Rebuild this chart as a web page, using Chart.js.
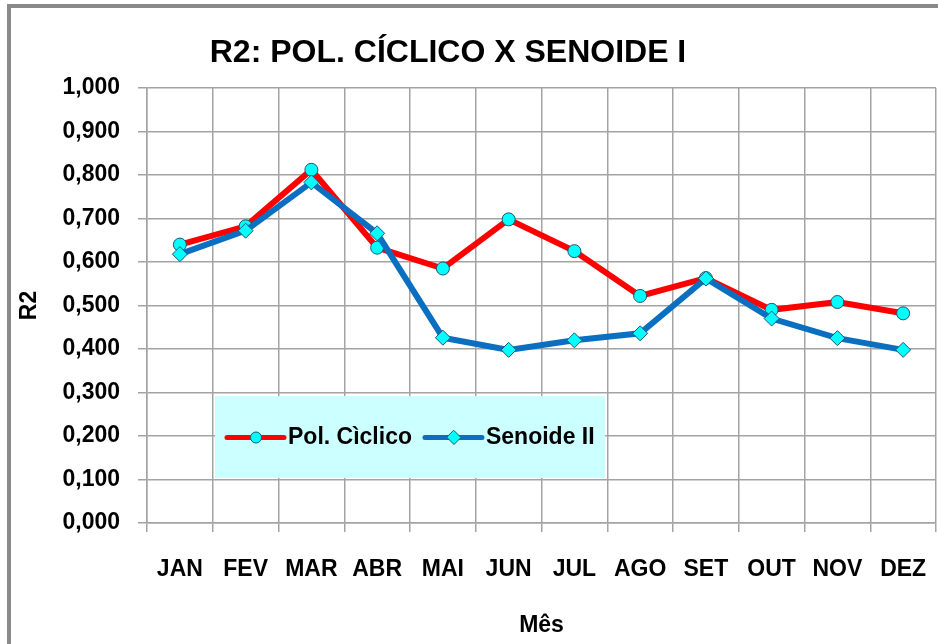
<!DOCTYPE html>
<html lang="pt">
<head>
<meta charset="utf-8">
<title>R2: POL. CÍCLICO X SENOIDE I</title>
<script src="https://cdn.jsdelivr.net/npm/chart.js@4/dist/chart.umd.min.js"></script>
<style>
  html, body { margin: 0; padding: 0; background: #ffffff; }
  #wrap { width: 938px; height: 644px; }
</style>
</head>
<body>
<div id="wrap"><canvas id="chart" width="938" height="644"></canvas></div>
<script>
// Monthly R2 of the two fitted models
const meses = ['JAN', 'FEV', 'MAR', 'ABR', 'MAI', 'JUN', 'JUL', 'AGO', 'SET', 'OUT', 'NOV', 'DEZ'];
const polCiclico = [0.640, 0.682, 0.812, 0.633, 0.585, 0.698, 0.625, 0.522, 0.563, 0.490, 0.508, 0.482];
const senoideII  = [0.618, 0.672, 0.783, 0.666, 0.426, 0.398, 0.420, 0.436, 0.562, 0.470, 0.425, 0.398];
const serieNomes = ['Pol. Cìclico', 'Senoide II'];
const tituloGrafico = 'R2: POL. CÍCLICO X SENOIDE I';
const tituloX = 'Mês';
const tituloY = 'R2';

const FONT = "'Liberation Sans', Arial, sans-serif";
const GRID = '#a3a3a3';
const RED = '#ff0000';
const BLUE = '#0a6fc0';
const MARK = '#00ffff';
const MARK_EDGE = '#1f5470';

// White page, grey frame and the heading
const framePlugin = {
  id: 'frame',
  beforeDraw(chart, args, opts) {
    const ctx = chart.ctx;
    ctx.save();
    ctx.fillStyle = '#ffffff';
    ctx.fillRect(0, 0, chart.width, chart.height);
    ctx.strokeStyle = '#8a8a8a';
    ctx.lineWidth = 4;
    ctx.strokeRect(9, 6, chart.width + 40, chart.height + 40);
    ctx.fillStyle = '#000000';
    ctx.font = 'bold 32px ' + FONT;
    ctx.textAlign = 'center';
    ctx.textBaseline = 'middle';
    ctx.fillText(opts.text, opts.x, opts.y);
    ctx.restore();
  }
};

// Legend panel drawn inside the plot area
const legendPanel = {
  id: 'legendPanel',
  beforeDatasetsDraw(chart, args, opts) {
    const ctx = chart.ctx;
    ctx.save();
    ctx.fillStyle = '#ccffff';
    ctx.fillRect(opts.left, opts.top, opts.width, opts.height);
    const cy = opts.top + opts.height / 2 + 0.5;
    ctx.font = 'bold 23px ' + FONT;
    ctx.textBaseline = 'middle';
    ctx.textAlign = 'left';
    let x = opts.left + 12;
    chart.data.datasets.forEach((ds) => {
      ctx.strokeStyle = ds.borderColor;
      ctx.lineWidth = 5;
      ctx.lineCap = 'round';
      ctx.beginPath();
      ctx.moveTo(x, cy);
      ctx.lineTo(x + 57, cy);
      ctx.stroke();
      ctx.fillStyle = MARK;
      ctx.strokeStyle = MARK_EDGE;
      ctx.lineWidth = 1;
      ctx.beginPath();
      if (ds.pointStyle === 'circle') {
        ctx.arc(x + 29, cy, 5.5, 0, Math.PI * 2);
      } else {
        ctx.moveTo(x + 29, cy - 7);
        ctx.lineTo(x + 36, cy);
        ctx.lineTo(x + 29, cy + 7);
        ctx.lineTo(x + 22, cy);
        ctx.closePath();
      }
      ctx.fill();
      ctx.stroke();
      ctx.fillStyle = '#000000';
      ctx.fillText(ds.label, x + 61, cy);
      x += 61 + ctx.measureText(ds.label).width + 13;
    });
    ctx.restore();
  }
};

const ctx = document.getElementById('chart').getContext('2d');
new Chart(ctx, {
  type: 'line',
  data: {
    labels: meses,
    datasets: [
      {
        label: serieNomes[0],
        data: polCiclico,
        borderColor: RED,
        backgroundColor: MARK,
        borderWidth: 6,
        pointStyle: 'circle',
        pointRadius: 6.5,
        pointBackgroundColor: MARK,
        pointBorderColor: MARK_EDGE,
        pointBorderWidth: 1,
        tension: 0,
        order: 1
      },
      {
        label: serieNomes[1],
        data: senoideII,
        borderColor: BLUE,
        backgroundColor: MARK,
        borderWidth: 6,
        pointStyle: 'rectRot',
        pointRadius: 7.5,
        pointBackgroundColor: MARK,
        pointBorderColor: MARK_EDGE,
        pointBorderWidth: 1,
        tension: 0,
        order: 0
      }
    ]
  },
  options: {
    responsive: false,
    animation: false,
    devicePixelRatio: 1,
    layout: { autoPadding: false, padding: { top: 88, right: 2, bottom: 0, left: 0 } },
    plugins: {
      legend: { display: false },
      title: { display: false },
      tooltip: { enabled: false },
      frame: { text: tituloGrafico, x: 448, y: 53 },
      legendPanel: { left: 215, top: 396, width: 390, height: 82 }
    },
    scales: {
      x: {
        offset: true,
        grid: {
          offset: true,
          color: GRID,
          lineWidth: 1.5,
          tickLength: 9,
          drawTicks: true
        },
        border: { color: GRID, width: 1.5 },
        ticks: {
          color: '#000000',
          font: { family: FONT, size: 23, weight: 'bold' },
          padding: 24,
          maxRotation: 0,
          autoSkip: false
        },
        title: {
          display: true,
          text: tituloX,
          color: '#000000',
          font: { family: FONT, size: 23, weight: 'bold' },
          padding: { top: 0, bottom: 5 }
        },
        afterFit(scale) {
          scale.height = 121;
          scale.paddingLeft = 0;
          scale.paddingRight = 0;
        }
      },
      y: {
        min: 0,
        max: 1,
        grid: {
          color: GRID,
          lineWidth: 1.5,
          tickLength: 9,
          drawTicks: true
        },
        border: { color: GRID, width: 1.5 },
        ticks: {
          stepSize: 0.1,
          color: '#000000',
          font: { family: FONT, size: 23, weight: 'bold' },
          padding: 18,
          callback: (v) => Number(v).toFixed(3).replace('.', ',')
        },
        title: {
          display: true,
          text: tituloY,
          color: '#000000',
          font: { family: FONT, size: 23, weight: 'bold' },
          padding: { top: 16, bottom: 0 }
        },
        afterFit(scale) {
          scale.width = 147;
          scale.paddingTop = 0;
          scale.paddingBottom = 0;
        }
      }
    }
  },
  plugins: [framePlugin, legendPanel]
});
</script>
</body>
</html>
